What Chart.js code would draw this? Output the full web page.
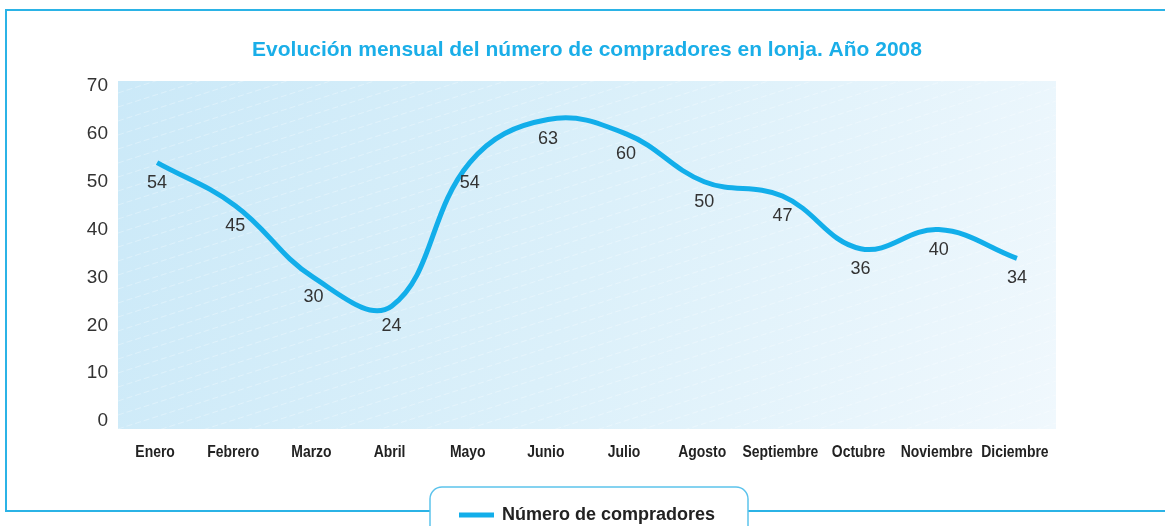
<!DOCTYPE html>
<html lang="es">
<head>
<meta charset="utf-8">
<title>Compradores en lonja 2008</title>
<script src="https://cdn.jsdelivr.net/npm/chart.js@4/dist/chart.umd.min.js"></script>
<style>
  html, body { margin: 0; padding: 0; background: #fff; }
  #wrap { position: relative; width: 1165px; height: 526px; }
</style>
</head>
<body>
<div id="wrap"><canvas id="lineChart" width="1165" height="526"></canvas></div>
<script>
// Datos
const months = ["Enero", "Febrero", "Marzo", "Abril", "Mayo", "Junio", "Julio",
  "Agosto", "Septiembre", "Octubre", "Noviembre", "Diciembre"];
const buyers = [54, 45, 30, 24, 54, 63, 60, 50, 47, 36, 40, 34];
const yTicks = [0, 10, 20, 30, 40, 50, 60, 70];

const TITLE = "Evolución mensual del número de compradores en lonja. Año 2008";
const SERIES = "Número de compradores";
const BLUE = "#12aeea";
const FRAME = "#2bb3e6";

// fondo degradado con rayas diagonales tenues
const plotBg = {
  id: 'plotBg',
  beforeDraw(c) {
    const { ctx, chartArea: a } = c;
    const top = a.top - 5, bottom = a.bottom + 8;
    ctx.save();
    const g = ctx.createLinearGradient(a.left, top, a.right, bottom);
    g.addColorStop(0, '#cbe9f8');
    g.addColorStop(0.5, '#dbf0fa');
    g.addColorStop(1, '#f0f8fd');
    ctx.fillStyle = g;
    ctx.fillRect(a.left, top, a.right - a.left, bottom - top);
    ctx.beginPath();
    ctx.rect(a.left, top, a.right - a.left, bottom - top);
    ctx.clip();
    ctx.strokeStyle = 'rgba(255,255,255,0.3)';
    ctx.lineWidth = 1;
    ctx.setLineDash([6, 3]);
    for (let y = top - 400; y < bottom + 40; y += 14) {
      ctx.beginPath();
      ctx.moveTo(a.left, y + 300);
      ctx.lineTo(a.right, y);
      ctx.stroke();
    }
    ctx.restore();
  }
};

// marco, título, meses, etiquetas de valores y leyenda
const decor = {
  id: 'decor',
  afterDatasetsDraw(c) {
    const { ctx } = c;
    const meta = c.getDatasetMeta(0);
    ctx.save();
    ctx.fillStyle = '#333';
    ctx.font = '18px "Liberation Sans", Arial, sans-serif';
    ctx.textAlign = 'center';
    ctx.textBaseline = 'middle';
    meta.data.forEach((pt, i) => {
      ctx.fillText(String(buyers[i]), pt.x, pt.y + 20);
    });
    ctx.restore();
  },
  afterDraw(c) {
    const { ctx, chartArea: a } = c;
    const xs = c.scales.x;
    ctx.save();
    // meses en letra estrecha
    ctx.fillStyle = '#222';
    ctx.font = 'bold 17px "Liberation Sans", Arial, sans-serif';
    ctx.textAlign = 'center';
    ctx.textBaseline = 'middle';
    months.forEach((m, i) => {
      ctx.save();
      ctx.translate(xs.getPixelForTick(i) - 2, 452);
      ctx.scale(0.82, 1);
      ctx.fillText(m, 0, 0);
      ctx.restore();
    });
    // marco
    ctx.strokeStyle = FRAME;
    ctx.lineWidth = 2;
    ctx.beginPath();
    ctx.moveTo(1165, 10);
    ctx.lineTo(6, 10);
    ctx.lineTo(6, 511);
    ctx.lineTo(430, 511);
    ctx.moveTo(748, 511);
    ctx.lineTo(1165, 511);
    ctx.stroke();
    // caja de la leyenda
    ctx.strokeStyle = '#5cc3ec';
    ctx.lineWidth = 1.5;
    ctx.beginPath();
    ctx.moveTo(430, 530);
    ctx.lineTo(430, 499);
    ctx.arcTo(430, 487, 442, 487, 12);
    ctx.lineTo(736, 487);
    ctx.arcTo(748, 487, 748, 499, 12);
    ctx.lineTo(748, 530);
    ctx.stroke();
    ctx.strokeStyle = BLUE;
    ctx.lineWidth = 5;
    ctx.beginPath();
    ctx.moveTo(459, 515);
    ctx.lineTo(494, 515);
    ctx.stroke();
    ctx.fillStyle = '#222';
    ctx.font = 'bold 18px "Liberation Sans", Arial, sans-serif';
    ctx.textAlign = 'left';
    ctx.fillText(SERIES, 502, 515);
    // título
    ctx.fillStyle = '#1aaee8';
    ctx.font = 'bold 21px "Liberation Sans", Arial, sans-serif';
    ctx.textAlign = 'center';
    ctx.fillText(TITLE, (a.left + a.right) / 2, 50);
    ctx.restore();
  }
};

new Chart(document.getElementById('lineChart'), {
  type: 'line',
  data: {
    labels: months,
    datasets: [{
      label: SERIES,
      data: buyers,
      borderColor: BLUE,
      borderWidth: 5,
      tension: 0.4,
      pointRadius: 0,
      fill: false
    }]
  },
  options: {
    responsive: false,
    animation: false,
    layout: { padding: { left: 0, right: 109, top: 86, bottom: 60 } },
    plugins: {
      legend: { display: false },
      title: { display: false },
      tooltip: { enabled: false }
    },
    scales: {
      x: {
        offset: true,
        grid: { display: false, drawTicks: false },
        border: { display: false },
        ticks: { display: false },
        afterFit: s => { s.height = 45; }
      },
      y: {
        min: 0,
        max: 70,
        grid: { display: false, drawTicks: false },
        border: { display: false },
        afterBuildTicks: s => { s.ticks = yTicks.map(v => ({ value: v })); },
        ticks: {
          padding: 10,
          color: '#333',
          font: { family: '"Liberation Sans", Arial', size: 19 }
        },
        afterFit: s => { s.width = 118; }
      }
    }
  },
  plugins: [plotBg, decor]
});
</script>
</body>
</html>
